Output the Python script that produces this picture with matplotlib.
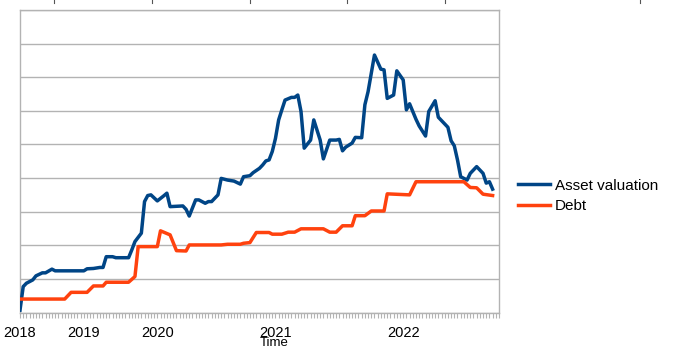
import matplotlib.pyplot as plt
from matplotlib.lines import Line2D
import numpy as np

plt.rcParams['font.family'] = ['Liberation Sans', 'DejaVu Sans']

# category index (sample number) and values
asset_idx = [0, 1, 2, 3, 4, 5, 7, 8, 10, 11, 20, 21, 23, 25, 26, 27, 29, 30, 34, 35,
             36, 38, 39, 40, 41, 43, 45, 46, 47, 51, 52, 53, 55, 56, 58, 59, 60, 62, 63, 65,
             67, 69, 70, 72, 73, 75, 76, 77, 78, 79, 80, 81, 82, 83, 85, 86, 87, 88, 89, 91,
             92, 94, 95, 97, 99, 100, 101, 102, 104, 105, 107, 108, 109, 111, 113, 114, 115, 117, 118, 120,
             121, 122, 124, 125, 127, 128, 130, 131, 133, 134, 135, 136, 137, 138, 140, 141, 143, 145, 146, 147,
             148]
asset_val = [7, 77, 87, 92, 97, 109, 118, 118, 129, 124, 124, 130, 131, 134, 134, 166, 166, 163, 163, 186,
             211, 236, 330, 348, 350, 332, 347, 355, 315, 317, 307, 287, 335, 335, 325, 330, 330, 350, 399, 394,
             391, 382, 404, 407, 416, 429, 439, 451, 454, 479, 518, 573, 603, 632, 640, 640, 647, 598, 489, 513,
             573, 513, 457, 513, 513, 515, 481, 492, 504, 521, 520, 618, 657, 766, 724, 722, 637, 647, 719, 692,
             603, 621, 575, 555, 525, 598, 630, 581, 561, 551, 511, 496, 454, 404, 394, 414, 434, 414, 385, 389,
             367]

debt_idx = [0, 14, 16, 21, 23, 26, 27, 34, 36, 37, 43, 44, 47, 49, 52, 53, 63, 65, 69, 70,
            72, 74, 78, 79, 82, 84, 86, 88, 95, 97, 99, 101, 104, 105, 108, 110, 114, 115, 122, 124,
            139, 141, 143, 145, 148]
debt_val = [40, 40, 60, 60, 79, 79, 90, 90, 107, 196, 196, 243, 231, 184, 183, 201, 201, 203, 203, 206,
            208, 238, 238, 233, 233, 239, 239, 249, 249, 239, 239, 258, 258, 288, 288, 302, 302, 353, 350, 389,
            389, 372, 371, 352, 348]

n_categories = 151
year_pos = [0, 20, 43, 80, 120]
year_labels = ["2018", "2019", "2020", "2021", "2022"]

blue = "#004586"
orange = "#ff420e"
grid_grey = "#b3b3b3"

fig = plt.figure(figsize=(6.75, 3.57), dpi=100)
ax = fig.add_axes([20 / 675, 1 - 312.5 / 357, 479 / 675, 302.5 / 357])

ax.plot(asset_idx, asset_val, color=blue, linewidth=2.5, label="Asset valuation",
        solid_joinstyle="round", zorder=3)
ax.plot(debt_idx, debt_val, color=orange, linewidth=2.5, label="Debt",
        solid_joinstyle="round", zorder=3)

ax.set_xlim(0, n_categories - 1)
ax.set_ylim(0, 900)

ax.set_yticks(np.arange(0, 901, 100))
ax.set_yticklabels([])
ax.tick_params(axis="y", length=0)
ax.grid(axis="y", color=grid_grey, linewidth=1)
ax.set_axisbelow(True)

ax.set_xticks(np.arange(n_categories), minor=True)
ax.set_xticks(year_pos)
ax.set_xticklabels(year_labels, fontsize=10.5)
ax.tick_params(axis="x", which="both", length=3.3, color=grid_grey, width=0.8, direction="out")
ax.tick_params(axis="x", which="major", pad=6.5)

for s in ax.spines.values():
    s.set_color(grid_grey)
    s.set_linewidth(1)

ax.set_xlabel("Time", fontsize=9.5)
ax.xaxis.set_label_coords(254 / 479, -0.08)

ax.legend(loc="center left", bbox_to_anchor=(518 / 675, 1 - 196 / 357),
          bbox_transform=fig.transFigure, frameon=False, fontsize=11,
          handlelength=2.1, handletextpad=0.3, labelspacing=0.45,
          borderpad=0, borderaxespad=0)

# cut-off marks along the top edge of the screenshot
for xp in [54, 152, 250, 347, 445, 640]:
    fig.add_artist(Line2D([xp / 675, xp / 675], [1, 1 - 3 / 357], color="#555555",
                          linewidth=0.8, transform=fig.transFigure))

fig.savefig("out.png", dpi=100)
